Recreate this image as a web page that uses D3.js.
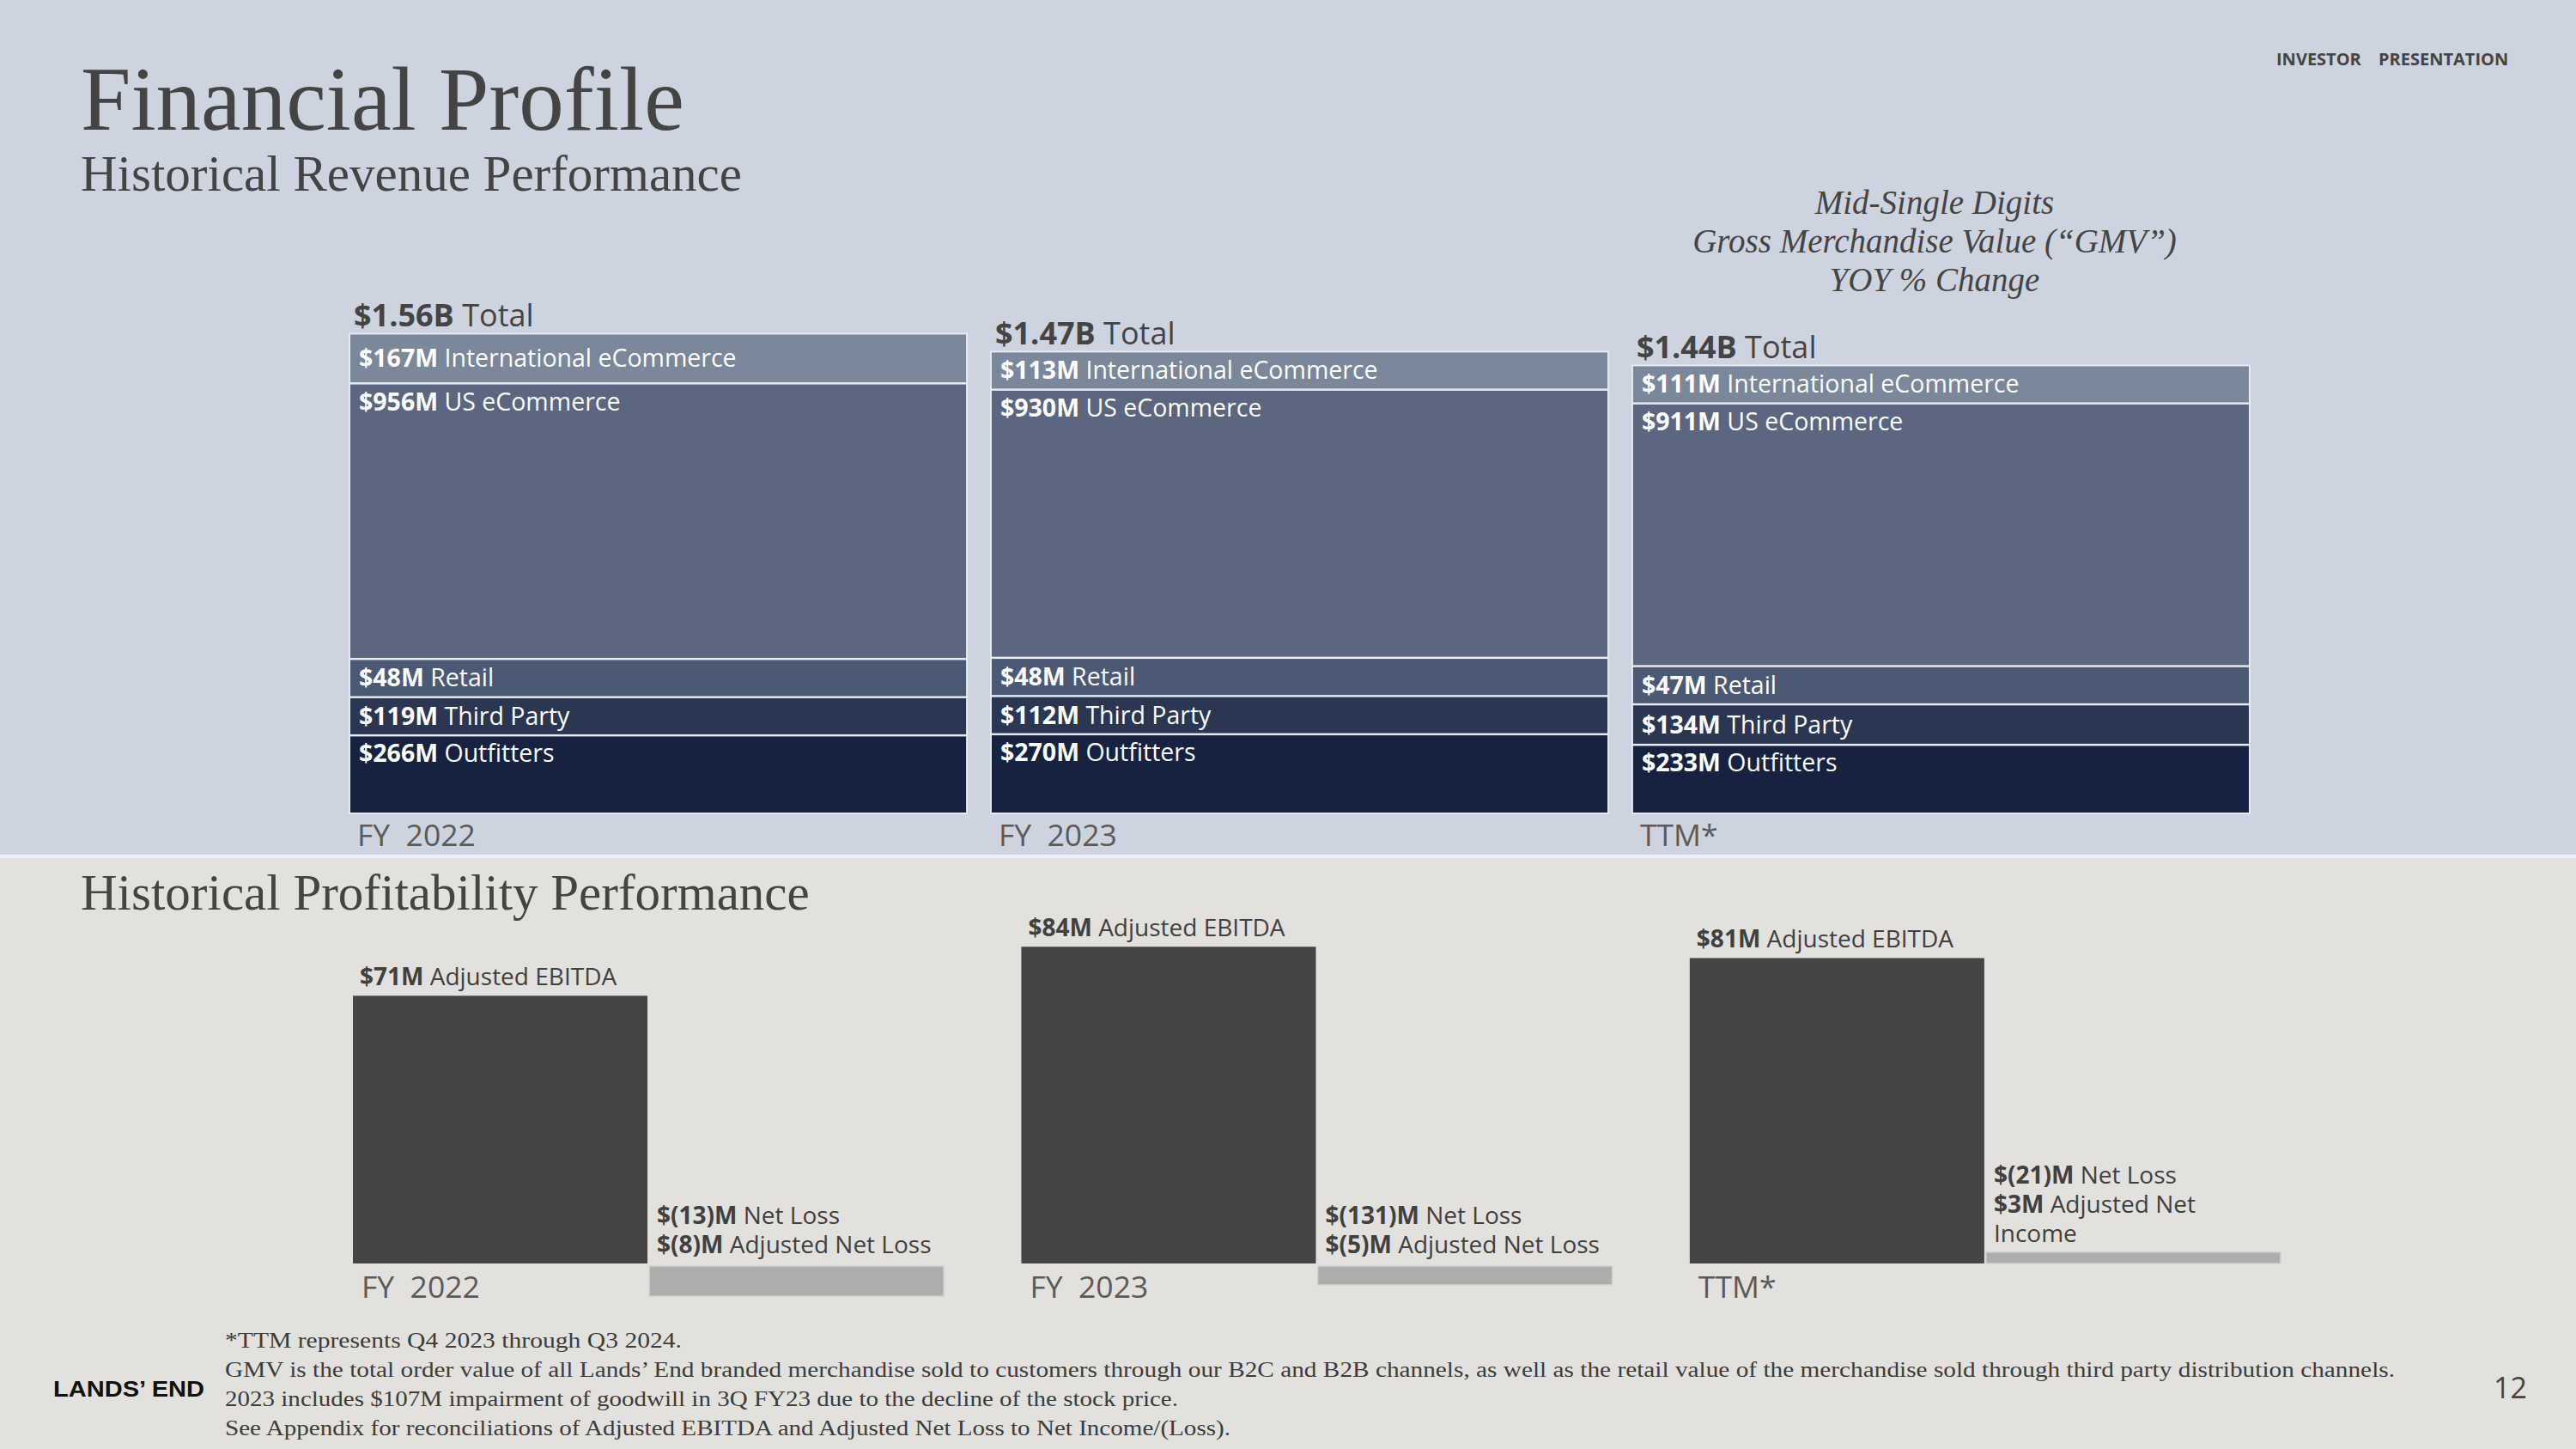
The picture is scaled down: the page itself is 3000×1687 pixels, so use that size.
<!DOCTYPE html>
<html><head><meta charset="utf-8">
<script src="https://cdn.jsdelivr.net/npm/d3@7"></script>
<style>
html,body{margin:0;padding:0;background:#e3e1dd;}
svg{display:block;}
text{white-space:pre;}
</style>
</head><body>
<svg id="chart" width="3000" height="1687"></svg>
<script>
// ---------- data ----------
const revCategories = ["FY  2022", "FY  2023", "TTM*"];
const revTotals = ["$1.56B", "$1.47B", "$1.44B"];
const revSegments = ["International eCommerce", "US eCommerce", "Retail", "Third Party", "Outfitters"];
const intlECommerce = [167, 113, 111];
const usECommerce = [956, 930, 911];
const retail = [48, 48, 47];
const thirdParty = [119, 112, 134];
const outfitters = [266, 270, 233];

const profitCategories = ["FY  2022", "FY  2023", "TTM*"];
const adjustedEbitda = [71, 84, 81];
const netIncome = [-13, -131, -21];
const adjustedNetIncome = [-8, -5, 3];
const netLabel = ["Net Loss", "Net Loss", "Net Loss"];
const adjNetLabelLines = [["Adjusted Net Loss"], ["Adjusted Net Loss"], ["Adjusted Net", "Income"]];

const gmvNote = ["Mid-Single Digits", "Gross Merchandise Value (\u201cGMV\u201d)", "YOY % Change"];
const footnotes = [
  "*TTM represents Q4 2023 through Q3 2024.",
  "GMV is the total order value of all Lands\u2019 End branded merchandise sold to customers through our B2C and B2B channels, as well as the retail value of the merchandise sold through third party distribution channels.",
  "2023 includes $107M impairment of goodwill in 3Q FY23 due to the decline of the stock price.",
  "See Appendix for reconciliations of Adjusted EBITDA and Adjusted Net Loss to Net Income/(Loss)."
];

// ---------- styles ----------
const SANS = "'Open Sans', 'DejaVu Sans', sans-serif";
const SERIF = "'Liberation Serif', 'DejaVu Serif', serif";
const segColors = ["#7b879b", "#5c6680", "#4c5974", "#2b3653", "#16223f"];

const svg = d3.select("#chart");

// backgrounds
svg.append("rect").attr("x", 0).attr("y", 0).attr("width", 3000).attr("height", 995).attr("fill", "#cdd3df");
svg.append("rect").attr("x", 0).attr("y", 995).attr("width", 3000).attr("height", 4).attr("fill", "#eef0f3");
svg.append("rect").attr("x", 0).attr("y", 999).attr("width", 3000).attr("height", 688).attr("fill", "#e3e1dd");

// titles
svg.append("text").attr("x", 94).attr("y", 151).attr("font-family", SERIF).attr("font-size", 105)
  .attr("fill", "#444").text("Financial Profile");
svg.append("text").attr("x", 94).attr("y", 222).attr("font-family", SERIF).attr("font-size", 59)
  .attr("fill", "#444").text("Historical Revenue Performance");
svg.append("text").attr("x", 94).attr("y", 1059).attr("font-family", SERIF).attr("font-size", 59)
  .attr("fill", "#444").text("Historical Profitability Performance");

// header right
svg.append("text").attr("x", 2651).attr("y", 76).attr("font-family", SANS).attr("font-weight", 700)
  .attr("font-size", 20).attr("fill", "#444").text("INVESTOR");
svg.append("text").attr("x", 2770).attr("y", 76).attr("font-family", SANS).attr("font-weight", 700)
  .attr("font-size", 20).attr("fill", "#444").text("PRESENTATION");

// GMV note
svg.append("g").selectAll("text").data(gmvNote).join("text")
  .attr("x", 2253).attr("y", (d, i) => 249 + i * 45)
  .attr("text-anchor", "middle").attr("font-family", SERIF).attr("font-style", "italic")
  .attr("font-size", 39).attr("fill", "#444").text(d => d);

// helper: bold amount + regular label
function twoPart(sel, amount, label) {
  sel.append("tspan").attr("font-weight", 700).text(amount);
  sel.append("tspan").attr("font-weight", 400).text(label);
}

// ---------- revenue stacked bars ----------
const xRev = d3.scaleBand().domain(revCategories).range([408, 2619]).paddingInner(0.04).paddingOuter(0);
const hRev = d3.scaleLinear().domain([0, 1000]).range([0, 333]);
const revBase = 946, gap = 2.5, minH = 42;
const bottomUp = [outfitters, thirdParty, retail, usECommerce, intlECommerce];
const bottomUpNames = revSegments.slice().reverse();
const bottomUpColors = segColors.slice().reverse();

const revG = svg.append("g");
revCategories.forEach((cat, i) => {
  const x0 = xRev(cat), w = xRev.bandwidth();
  let y = revBase;
  const segs = [];
  bottomUp.forEach((series, k) => {
    const v = series[i];
    const h = Math.max(minH, hRev(v));
    const top = y - h;
    segs.push({ v, h, top, name: bottomUpNames[k], color: bottomUpColors[k] });
    y = top - gap;
  });
  const stackTop = segs[segs.length - 1].top;
  // light frame
  revG.append("rect").attr("x", x0 - 2).attr("y", stackTop - 2).attr("width", w + 4)
    .attr("height", revBase - stackTop + 4).attr("fill", "#e7eaf0");
  revG.selectAll(null).data(segs).join("rect")
    .attr("x", x0).attr("y", d => d.top).attr("width", w).attr("height", d => d.h)
    .attr("fill", d => d.color);
  segs.forEach(d => {
    const base = d.h < 70 ? d.top + d.h / 2 + 10 : d.top + 30;
    const t = revG.append("text").attr("x", x0 + 10).attr("y", base)
      .attr("font-family", SANS).attr("font-size", 28.5).attr("fill", "#ffffff");
    twoPart(t, "$" + d.v + "M", " " + d.name);
  });
  const tt = revG.append("text").attr("x", x0 + 4).attr("y", stackTop - 9)
    .attr("font-family", SANS).attr("font-size", 36).attr("fill", "#444");
  twoPart(tt, revTotals[i], " Total");
  revG.append("text").attr("x", x0 + 8).attr("y", 985).attr("font-family", SANS)
    .attr("font-size", 35.5).attr("fill", "#5a5a5a").text(cat);
});

// ---------- profitability bars ----------
const xP = d3.scaleBand().domain(profitCategories).range([411, 2656]).paddingInner(0.116).paddingOuter(0);
const xSub = d3.scaleBand().domain(["ebitda", "adjNet"]).range([0, xP.bandwidth()]).paddingInner(0.006);
const yP = d3.scaleLinear().domain([0, 100]).range([1471, 1032]);
const fmt = v => v < 0 ? "$(" + Math.abs(v) + ")M" : "$" + v + "M";

const pG = svg.append("g");
pG.selectAll("rect.ebitda").data(adjustedEbitda).join("rect").attr("class", "ebitda")
  .attr("x", (d, i) => xP(profitCategories[i]) + xSub("ebitda"))
  .attr("y", d => yP(d)).attr("width", xSub.bandwidth())
  .attr("height", d => yP(0) - yP(d)).attr("fill", "#454545");
pG.selectAll("rect.adj").data(adjustedNetIncome).join("rect").attr("class", "adj")
  .attr("x", (d, i) => xP(profitCategories[i]) + xSub("adjNet"))
  .attr("y", d => d < 0 ? yP(0) + 3 : yP(d)).attr("width", xSub.bandwidth())
  .attr("height", d => Math.abs(yP(0) - yP(d))).attr("fill", "#adadad")
  .attr("stroke", "#d4d2ce").attr("stroke-width", 1.5);

profitCategories.forEach((cat, i) => {
  const gx = xP(cat);
  const e = pG.append("text").attr("x", gx + xSub("ebitda") + 8).attr("y", yP(adjustedEbitda[i]) - 12)
    .attr("font-family", SANS).attr("font-size", 28).attr("fill", "#404040");
  twoPart(e, "$" + adjustedEbitda[i] + "M", " Adjusted EBITDA");

  const adj = adjustedNetIncome[i];
  const lines = [
    { amt: fmt(netIncome[i]), lab: " " + netLabel[i] },
    { amt: fmt(adj), lab: " " + adjNetLabelLines[i][0] }
  ];
  adjNetLabelLines[i].slice(1).forEach(l => lines.push({ amt: "", lab: l }));
  const lastBase = (adj < 0 ? yP(0) : yP(adj)) - 12;
  const lx = gx + xSub("adjNet") + 9;
  lines.forEach((l, k) => {
    const t = pG.append("text").attr("x", lx).attr("y", lastBase - (lines.length - 1 - k) * 34)
      .attr("font-family", SANS).attr("font-size", 28).attr("fill", "#404040");
    twoPart(t, l.amt, l.lab);
  });
  pG.append("text").attr("x", gx + 10).attr("y", 1511).attr("font-family", SANS)
    .attr("font-size", 35.5).attr("fill", "#5a5a5a").text(cat);
});

// ---------- footer ----------
const fnWidths = [532, 2527, 1110, 1171];
svg.append("g").selectAll("text").data(footnotes).join("text")
  .attr("x", 262).attr("y", (d, i) => 1569 + i * 34)
  .attr("font-family", SERIF).attr("font-size", 26).attr("fill", "#3c3c3c")
  .attr("textLength", (d, i) => fnWidths[i]).attr("lengthAdjust", "spacingAndGlyphs")
  .text(d => d);
svg.append("text").attr("x", 62).attr("y", 1626).attr("font-family", "'Liberation Sans', Arial, sans-serif")
  .attr("font-weight", 700).attr("font-size", 25).attr("fill", "#111")
  .attr("textLength", 176).attr("lengthAdjust", "spacingAndGlyphs").text("LANDS\u2019 END");
svg.append("text").attr("x", 2943).attr("y", 1628).attr("text-anchor", "end").attr("font-family", SANS)
  .attr("font-size", 34).attr("fill", "#444").text("12");
</script>
</body></html>
